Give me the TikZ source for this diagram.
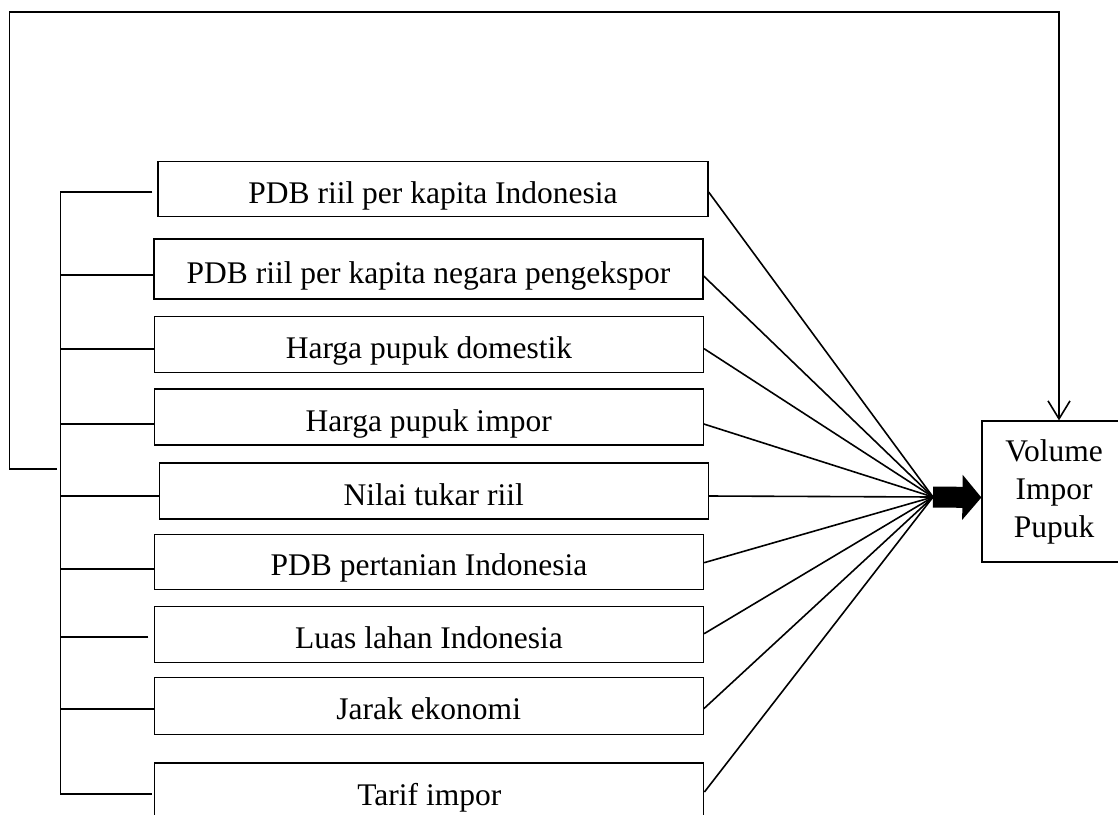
\documentclass[tikz,border=0pt]{standalone}
\usepackage{fontspec}
\setmainfont{Liberation Serif}
\usetikzlibrary{arrows.meta}

\tikzset{
  varbox/.style={draw, rectangle, line width=1.2pt, minimum width=549pt, minimum height=56pt,
    inner sep=0pt, text height=35pt, text depth=7pt, font=\fontsize{31.5}{38}\selectfont},
  targetbox/.style={draw, rectangle, line width=1.2pt, minimum width=144pt, minimum height=141pt,
    inner sep=0pt, align=center, font=\fontsize{31.5}{38}\selectfont},
  link/.style={line width=1.6pt},
}

\begin{document}
\begin{tikzpicture}[x=1pt, y=-1pt]
    \useasboundingbox (0,0) rectangle (1118,814);

    \node[varbox, minimum width=550pt, minimum height=55pt] (pdbid) at (433,189) {PDB riil per kapita Indonesia};
    \node[varbox, minimum height=60pt] (pdbex) at (428.5,269) {PDB riil per kapita negara pengekspor};
    \node[varbox] (hdom) at (429,344.7) {Harga pupuk domestik};
    \node[varbox] (himp) at (428.7,417) {Harga pupuk impor};
    \node[varbox] (kurs) at (433.7,491) {Nilai tukar riil};
    \node[varbox, minimum height=55pt] (pdbtani) at (429,561.7) {PDB pertanian Indonesia};
    \node[varbox] (lahan) at (429,634.7) {Luas lahan Indonesia};
    \node[varbox, minimum height=57pt] (jarak) at (428.7,705.7) {Jarak ekonomi};
    \node[varbox] (tarif) at (429.3,791) {Tarif impor};

    \node[targetbox] (vol) at (1054,491.5) {Volume\\Impor\\Pupuk};

    \coordinate (hub) at (933,497);
    \coordinate (fb) at (57,469);
    \coordinate (corner) at (9.5,12);

    % bracket on the left
    \draw[link] ([xshift=-5pt, yshift=-3pt]pdbid.west) -- ++(-92,0) |- ([xshift=-2pt, yshift=-3pt]tarif.west);
    \draw[link] ([yshift=-6pt]pdbex.west) -- ++(-93,0);
    \draw[link] ([yshift=-4pt]hdom.west) -- ++(-93.5,0);
    \draw[link] ([yshift=-7pt]himp.west) -- ++(-93,0);
    \draw[link] ([yshift=-5pt]kurs.west) -- ++(-98,0);
    \draw[link] ([yshift=-7pt]pdbtani.west) -- ++(-93.5,0);
    \draw[link] ([xshift=-5.5pt, yshift=-2pt]lahan.west) -- ++(-88,0);
    \draw[link] ([yshift=-3pt]jarak.west) -- ++(-93,0);

    % lines to the hub
    \draw[link] ([yshift=-3pt]pdbid.east) -- (hub);
    \draw[link] ([yshift=-7pt]pdbex.east) -- (hub);
    \draw[link] ([yshift=-4pt]hdom.east) -- (hub);
    \draw[link] ([yshift=-7pt]himp.east) -- (hub);
    \draw[link] ([yshift=-5pt]kurs.east) -- (hub);
    \draw[link] ([yshift=-1pt]pdbtani.east) -- (hub);
    \draw[link] ([yshift=1pt]lahan.east) -- (hub);
    \draw[link] ([yshift=-3pt]jarak.east) -- (hub);
    \draw[link] ([yshift=-1pt]tarif.east) -- (hub);

    \draw[line width=21pt, -{Triangle[length=19pt 0 0, width=44pt 0 0]}] (hub) -- ([yshift=-6pt]vol.west);

    % feedback
    \draw[link, -{Straight Barb[length=18pt 0 0, width=22pt 0 0]}] (fb) -| (corner) -| ([xshift=5pt]vol.north);
\end{tikzpicture}
\end{document}
